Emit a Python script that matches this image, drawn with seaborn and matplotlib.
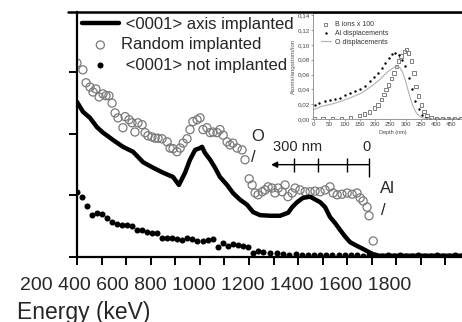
import matplotlib
matplotlib.use("Agg")
import matplotlib.pyplot as plt
import seaborn as sns
import numpy as np
import pandas as pd
from matplotlib.lines import Line2D

# ---------------- data (main RBS spectra) ----------------
energy_channeled = [500, 524, 553, 581, 606, 647, 687, 728, 769, 810, 850, 891, 915,
                    940, 960, 981, 1001, 1009, 1021, 1042, 1062, 1082, 1111, 1135, 1164,
                    1192, 1217, 1245, 1286, 1327, 1360, 1376, 1396, 1420, 1449, 1490,
                    1510, 1530, 1551, 1571, 1592, 1612, 1640, 1665, 1693, 1714, 1734,
                    1780, 1840, 1900, 1960, 2020, 2090]
counts_channeled = [2.52, 2.36, 2.26, 2.11, 2.02, 1.90, 1.79, 1.71, 1.54, 1.45, 1.37, 1.30, 1.17,
                    1.37, 1.58, 1.74, 1.77, 1.79, 1.69, 1.58, 1.45, 1.30, 1.17, 1.04, 0.93,
                    0.85, 0.73, 0.68, 0.67, 0.67, 0.72, 0.81, 0.89, 0.96, 0.98, 0.89,
                    0.81, 0.65, 0.55, 0.44, 0.33, 0.24, 0.18, 0.13, 0.07, 0.03, 0.02,
                    0.02, 0.02, 0.02, 0.02, 0.02, 0.02]

energy_random = [500, 524, 537, 553, 565, 577, 590, 606, 618, 630, 643, 655, 667, 687, 696,
                 712, 724, 736, 748, 765, 777, 789, 805, 818, 830, 846, 867, 879, 891, 907,
                 920, 932, 948, 960, 972, 989, 1001, 1013, 1029, 1042, 1054, 1070, 1082,
                 1095, 1111, 1123, 1135, 1152, 1172, 1184, 1201, 1213, 1225, 1237, 1254,
                 1266, 1278, 1294, 1306, 1319, 1335, 1347, 1359, 1376, 1388, 1408, 1429,
                 1449, 1469, 1490, 1510, 1530, 1543, 1559, 1579, 1600, 1620, 1640, 1653,
                 1665, 1681, 1689, 1706]
counts_random = [3.15, 3.04, 2.83, 2.76, 2.68, 2.73, 2.60, 2.65, 2.62, 2.62, 2.50, 2.34, 2.26,
                 2.10, 2.28, 2.23, 2.18, 2.03, 2.18, 2.15, 2.02, 1.97, 1.95, 1.93, 1.93, 1.92,
                 1.87, 1.77, 1.76, 1.71, 1.77, 1.85, 1.92, 2.07, 2.20, 2.23, 2.26, 2.07, 2.10,
                 2.02, 2.03, 2.02, 2.07, 1.98, 1.87, 1.82, 1.85, 1.77, 1.74, 1.58, 1.27, 1.17,
                 1.04, 1.01, 1.06, 1.09, 1.14, 1.12, 1.04, 1.12, 1.06, 1.17, 0.98, 1.04, 1.12,
                 1.09, 1.06, 1.06, 1.07, 1.06, 1.09, 1.14, 1.04, 1.01, 1.02, 1.04, 1.02, 1.04,
                 0.96, 0.91, 0.81, 0.67, 0.26]

energy_virgin = [500, 520, 541, 561, 581, 602, 622, 643, 663, 683, 704, 724, 744, 765, 785,
                 805, 826, 846, 867, 887, 907, 928, 948, 968, 989, 1013, 1034, 1054, 1074,
                 1095, 1115, 1135, 1156, 1176, 1197, 1217, 1237, 1258, 1286, 1315, 1340,
                 1365, 1390, 1415, 1440, 1465, 1490, 1515, 1540, 1565, 1590, 1615, 1640,
                 1665, 1690, 1715, 1740, 1765, 1790, 1815, 1840, 1865, 1890, 1915, 1940,
                 1965, 1990, 2015, 2040, 2065]
counts_virgin = [1.06, 0.98, 0.83, 0.68, 0.72, 0.70, 0.63, 0.57, 0.54, 0.52, 0.52, 0.50, 0.44,
                 0.44, 0.41, 0.39, 0.39, 0.31, 0.31, 0.31, 0.29, 0.28, 0.31, 0.29, 0.26, 0.26,
                 0.28, 0.29, 0.16, 0.23, 0.18, 0.21, 0.20, 0.18, 0.16, 0.07, 0.10, 0.08, 0.07,
                 0.07, 0.05, 0.04, 0.05, 0.04, 0.03, 0.04, 0.03, 0.04, 0.03, 0.03, 0.04, 0.03,
                 0.03, 0.02, 0.03, 0.03, 0.02, 0.03, 0.02, 0.03, 0.02, 0.02, 0.03, 0.02, 0.02,
                 0.03, 0.02, 0.02, 0.03, 0.02]

energy_tick_text = "200 400 600 800 1000 1200 1400 1600 1800"
xlabel_text = "Energy (keV)"
legend_labels = [" <0001> axis implanted", "Random implanted", " <0001> not implanted"]

# ---------------- data (inset SRIM profiles) ----------------
depth_b = [0, 30, 60, 90, 120, 149, 166, 182, 198, 209, 220, 229, 236, 244, 253, 262, 269,
           277, 285, 296, 302, 310, 318, 327, 334, 342, 351, 360, 370, 383, 400, 420, 440,
           460, 480]
b_ions = [0.0, 0.0, 0.001, 0.001, 0.002, 0.005, 0.007, 0.0095, 0.015, 0.019, 0.026, 0.033,
          0.040, 0.046, 0.055, 0.062, 0.071, 0.078, 0.085, 0.091, 0.094, 0.089, 0.078, 0.062,
          0.044, 0.031, 0.019, 0.010, 0.005, 0.0014, 0.0, 0.0, 0.0, 0.0, 0.0]

depth_al = [2, 18, 35, 51, 68, 84, 100, 117, 133, 149, 166, 182, 198, 211, 222, 233, 244,
            255, 266, 277, 288, 299, 310, 320, 331, 342, 353, 367, 380, 395, 410, 425, 440,
            455, 470]
al_disp = [0.019, 0.022, 0.024, 0.026, 0.027, 0.029, 0.032, 0.035, 0.038, 0.041, 0.045,
           0.051, 0.057, 0.062, 0.069, 0.076, 0.082, 0.088, 0.089, 0.087, 0.080, 0.071,
           0.055, 0.040, 0.024, 0.013, 0.006, 0.001, 0.0, 0.0, 0.0, 0.0, 0.0, 0.0, 0.0]

depth_o = [0, 24, 57, 89, 122, 155, 187, 215, 242, 266, 280, 291, 301, 313, 324, 335, 351,
           373, 420, 482]
o_disp = [0.0126, 0.017, 0.020, 0.024, 0.029, 0.035, 0.044, 0.053, 0.064, 0.071, 0.070,
          0.062, 0.049, 0.031, 0.017, 0.008, 0.002, 0.0, 0.0, 0.0]

inset_xticks = [0, 50, 100, 150, 200, 250, 300, 350, 400, 450, 500]
inset_yticks = [0.00, 0.02, 0.04, 0.06, 0.08, 0.10, 0.12, 0.14]
inset_ytick_labels = ["0,00", "0,02", "0,04", "0,06", "0,08", "0,10", "0,12", "0,14"]
inset_legend_labels = ["B ions x 100", "Al displacements", "O displacements"]

# ---------------- figure ----------------
sns.set_theme(style="white")
plt.rcParams["font.family"] = ["Liberation Sans", "DejaVu Sans"]

W, H = 462, 322
fig = plt.figure(figsize=(W / 100, H / 100), dpi=100)
fig.patch.set_facecolor("white")

ax = fig.add_axes([77 / W, 65 / H, (470 - 77) / W, 245 / H])
ax.set_facecolor("white")

df_ch = pd.DataFrame({"E": energy_channeled, "c": counts_channeled})
df_rd = pd.DataFrame({"E": energy_random, "c": counts_random})
df_vg = pd.DataFrame({"E": energy_virgin, "c": counts_virgin})

sns.lineplot(data=df_ch, x="E", y="c", ax=ax, color="black", lw=3.2,
             label=legend_labels[0])
sns.scatterplot(data=df_rd, x="E", y="c", ax=ax, marker="o", s=34,
                facecolors="none", edgecolor="#7a7a7a", linewidth=0.9,
                label=legend_labels[1])
sns.scatterplot(data=df_vg, x="E", y="c", ax=ax, marker="o", s=19,
                color="black", linewidth=0, label=legend_labels[2])

ax.set_xlim(500, 2100)
ax.set_ylim(0, 3.98)
ax.set_xticks(np.arange(500, 2001, 100))
ax.set_yticks([0, 1, 2, 3])
ax.set_xticklabels([])
ax.set_yticklabels([])
ax.set_xlabel("")
ax.set_ylabel("")
ax.tick_params(axis="both", direction="out", length=6, width=1.4, color="black",
               bottom=True, left=True)
for s in ["top", "right"]:
    ax.spines[s].set_visible(False)
for s in ["left", "bottom"]:
    ax.spines[s].set_color("black")
    ax.spines[s].set_linewidth(1.6)

leg = ax.legend(loc="upper left", bbox_to_anchor=(0.0, 1.0), frameon=False,
                fontsize=12, handlelength=2.2, handletextpad=0.15,
                labelspacing=0.32, borderpad=0.3, borderaxespad=0.0)

# annotations: depth scale
ax.text(1237, 1.95, "O", ha="center", va="center", fontsize=12)
ax.text(1217, 1.61, "/", ha="center", va="center", fontsize=12)
ax.text(1396, 1.79, "300 nm", ha="center", va="center", fontsize=10.5)
ax.text(1677, 1.79, "0", ha="center", va="center", fontsize=10.5)
ax.annotate("", xy=(1290, 1.50), xytext=(1689, 1.50),
            arrowprops=dict(arrowstyle="-|>", color="black", lw=1.0,
                            mutation_scale=9, shrinkA=0, shrinkB=0))
scale_ticks = [1384, 1482, 1600]
ax.vlines(scale_ticks, 1.38, 1.61, color="black", lw=1.0)
ax.vlines([1689], 1.30, 1.61, color="black", lw=1.0)
ax.text(1763, 1.12, "Al", ha="center", va="center", fontsize=12)
ax.text(1746, 0.76, "/", ha="center", va="center", fontsize=12)

# tick label strip and axis title
fig.text(20 / W, 1 - 285 / H, energy_tick_text, ha="left", va="center", fontsize=14)
fig.text(17 / W, 1 - 312 / H, xlabel_text, ha="left", va="center", fontsize=16.5)

# ---------------- inset ----------------
ax2 = fig.add_axes([313 / W, (H - 119) / H, (473 - 313) / W, 106 / H])
ax2.set_facecolor("white")
df_b = pd.DataFrame({"d": depth_b, "v": b_ions})
df_al = pd.DataFrame({"d": depth_al, "v": al_disp})
df_o = pd.DataFrame({"d": depth_o, "v": o_disp})
sns.scatterplot(data=df_b, x="d", y="v", ax=ax2, marker="s", s=6,
                facecolors="none", edgecolor="#808080", linewidth=0.7,
                label=inset_legend_labels[0])
sns.scatterplot(data=df_al, x="d", y="v", ax=ax2, marker="o", s=3,
                color="black", linewidth=0, label=inset_legend_labels[1])
sns.lineplot(data=df_o, x="d", y="v", ax=ax2, color="#b0b0b0", lw=0.8,
             label=inset_legend_labels[2])
ax2.set_xlim(-3, 520)
ax2.set_ylim(0, 0.143)
ax2.set_xticks(inset_xticks)
ax2.set_xticklabels([str(t) for t in inset_xticks])
ax2.set_yticks(inset_yticks)
ax2.set_yticklabels(inset_ytick_labels)
ax2.tick_params(axis="both", labelsize=4.5, labelcolor="#444444", length=1.5,
                width=0.5, color="#777777", pad=1, direction="out",
                bottom=True, left=True)
ax2.set_xlabel("Depth (nm)", fontsize=4, color="#444444", labelpad=1.5)
ax2.set_ylabel("Atoms/angstrom/ion", fontsize=4.5, color="#555555", labelpad=1)
for s in ax2.spines.values():
    s.set_color("#888888")
    s.set_linewidth(0.6)
ax2.legend(loc="upper left", bbox_to_anchor=(0.045, 0.93), frameon=False,
           fontsize=5, handlelength=1.4, handletextpad=0.6, labelspacing=0.25,
           borderpad=0.1, borderaxespad=0.0, labelcolor="#333333")

# heavy top frame line
fig.add_artist(Line2D([68 / W, 1.0], [1 - 12 / H, 1 - 12 / H], color="black",
                      lw=1.8, transform=fig.transFigure))

fig.savefig("out.png", dpi=100, facecolor="white")
